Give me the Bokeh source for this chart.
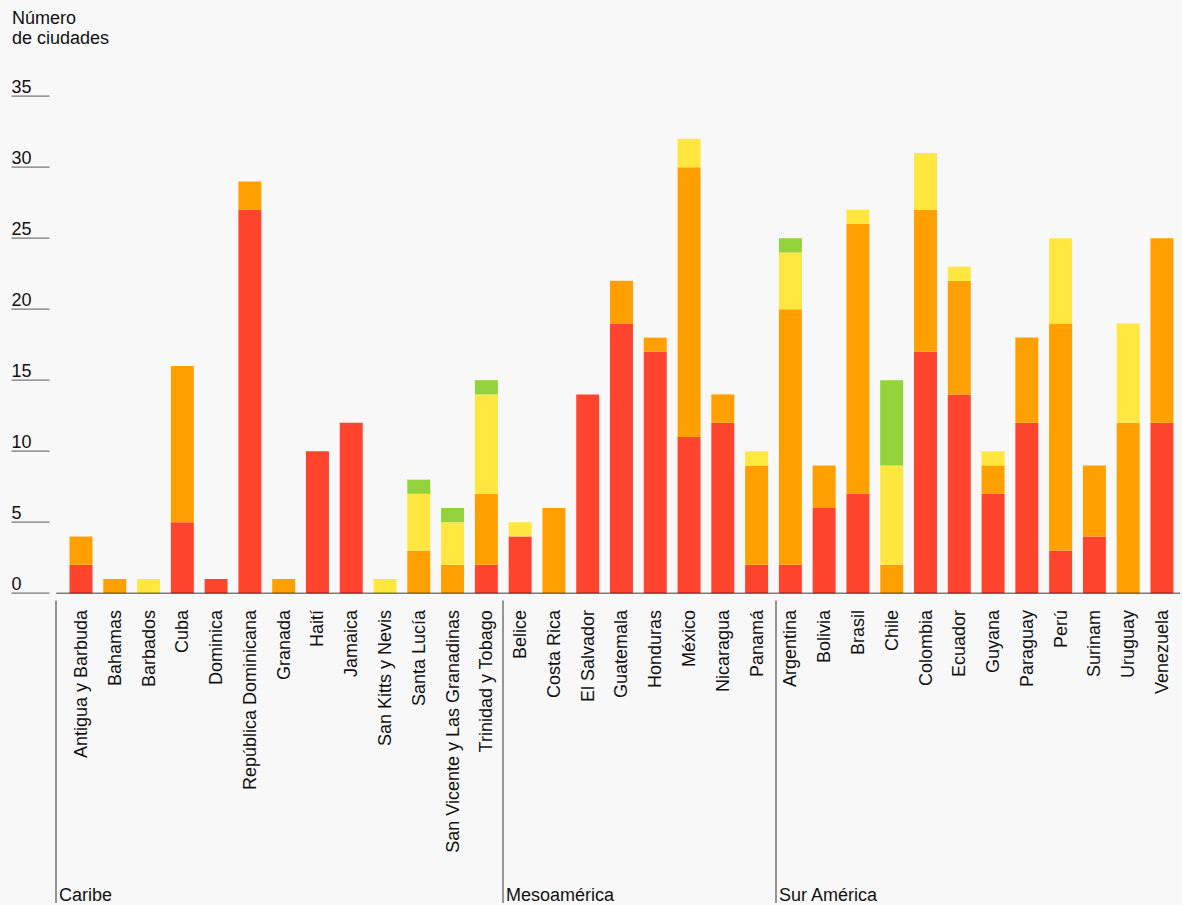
import math
from bokeh.plotting import figure
from bokeh.models import Range1d, ColumnDataSource
from bokeh.embed import file_html
from bokeh.resources import INLINE
from bokeh.core.properties import value

# ---------------- data ----------------
countries = [
    "Antigua y Barbuda", "Bahamas", "Barbados", "Cuba", "Dominica",
    "República Dominicana", "Granada", "Haití", "Jamaica", "San Kitts y Nevis",
    "Santa Lucía", "San Vicente y Las Granadinas", "Trinidad y Tobago",
    "Belice", "Costa Rica", "El Salvador", "Guatemala", "Honduras", "México",
    "Nicaragua", "Panamá",
    "Argentina", "Bolivia", "Brasil", "Chile", "Colombia", "Ecuador", "Guyana",
    "Paraguay", "Perú", "Surinam", "Uruguay", "Venezuela",
]
rojo = [2, 0, 0, 5, 1, 27, 0, 10, 12, 0, 0, 0, 2,
        4, 0, 14, 19, 17, 11, 12, 2,
        2, 6, 7, 0, 17, 14, 7, 12, 3, 4, 0, 12]
naranja = [2, 1, 0, 11, 0, 2, 1, 0, 0, 0, 3, 2, 5,
           0, 6, 0, 3, 1, 19, 2, 7,
           18, 3, 19, 2, 10, 8, 2, 6, 16, 5, 12, 13]
amarillo = [0, 0, 1, 0, 0, 0, 0, 0, 0, 1, 4, 3, 7,
            1, 0, 0, 0, 0, 2, 0, 1,
            4, 0, 1, 7, 4, 1, 1, 0, 6, 0, 7, 0]
verde = [0, 0, 0, 0, 0, 0, 0, 0, 0, 0, 1, 1, 1,
         0, 0, 0, 0, 0, 0, 0, 0,
         1, 0, 0, 6, 0, 0, 0, 0, 0, 0, 0, 0]
groups = ["Caribe", "Mesoamérica", "Sur América"]
group_sizes = [13, 8, 12]
yticks = [0, 5, 10, 15, 20, 25, 30, 35]
y_title = ["Número", "de ciudades"]

colors = ["#ff442e", "#ffa000", "#ffe740", "#92d23a"]
FONT = value("Liberation Sans")
BG = "#f8f8f8"

# ---------------- geometry (screen px -> data) ----------------
W, H = 1180, 903
X0, DX = 80.5, 33.78     # screen x of first bar centre, px per category
Y0, DY = 592.7, 14.2     # screen y of value 0, px per unit
TXT_SHIFT = 6.5          # compensate the renderer's baseline placement


def sx(px):
    return (px - X0) / DX


def sy(py):
    return (Y0 - py) / DY


x_start, x_end = sx(0), sx(W)
y_start, y_end = sy(H), sy(0)

p = figure(width=W, height=H, output_backend="svg", toolbar_location=None,
           x_range=Range1d(x_start, x_end), y_range=Range1d(y_start, y_end),
           min_border=0, x_axis_type=None, y_axis_type=None)
p.grid.visible = False
p.outline_line_color = None
p.background_fill_color = BG
p.border_fill_color = BG

idx = list(range(len(countries)))
src = ColumnDataSource(dict(x=idx, rojo=rojo, naranja=naranja,
                            amarillo=amarillo, verde=verde))
p.vbar_stack(["rojo", "naranja", "amarillo", "verde"], x="x", width=0.68,
             source=src, fill_color=colors, line_color=None)

# baseline
p.segment(x0=[sx(55.7)], x1=[x_end], y0=[0], y1=[0],
          line_color="black", line_alpha=0.5, line_width=1.5)

# y ticks (underlined labels: text sits just above its line)
lift = (3.0 + TXT_SHIFT) / DY
p.segment(x0=[sx(11)] * len(yticks), x1=[sx(49)] * len(yticks),
          y0=yticks, y1=yticks, line_color="#777", line_width=1.3)
p.text(x=[sx(11)] * len(yticks), y=[t + lift for t in yticks],
       text=[str(t) for t in yticks],
       text_baseline="alphabetic", text_align="left",
       text_font=FONT, text_font_size="18px", text_color="#111")

# y title
p.text(x=[sx(11.5)] * 2, y=[sy(24.3 - TXT_SHIFT), sy(44 - TXT_SHIFT)],
       text=y_title, text_baseline="alphabetic", text_align="left",
       text_font=FONT, text_font_size="18px", text_color="#111")

# country labels
p.text(x=idx, y=[sy(609.5)] * len(idx), text=countries, angle=math.pi / 2,
       text_align="right", text_baseline="middle",
       text_font=FONT, text_font_size="18px", text_color="#111")

# group separators and names
sep_px = [55.5, 502.5, 775.5]
p.segment(x0=[sx(v) for v in sep_px], x1=[sx(v) for v in sep_px],
          y0=[sy(600)] * 3, y1=[y_start] * 3, line_color="#333", line_width=1)
p.text(x=[sx(v + 3) for v in sep_px], y=[sy(894)] * 3, text=groups,
       text_baseline="alphabetic", text_align="left",
       text_font=FONT, text_font_size="18px", text_color="#111")

html = file_html(p, INLINE)
html = html.replace("</head>",
                    "<style>html, body { background: %s; }</style></head>" % BG, 1)
open("out.html", "w").write(html)
